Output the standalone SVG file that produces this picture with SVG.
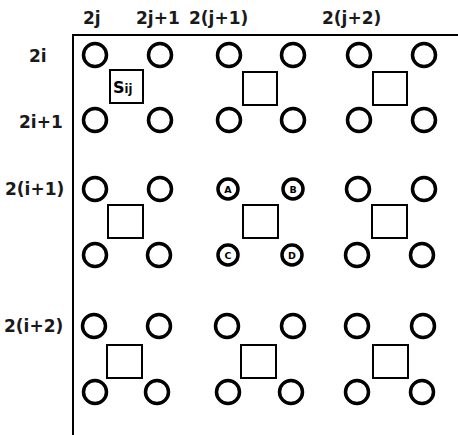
<svg xmlns="http://www.w3.org/2000/svg" width="458" height="435" viewBox="0 0 458 435">
<style>
.c{fill:none;stroke:#000;stroke-width:3.5}
.s{fill:none;stroke:#000;stroke-width:2}
.l{font-family:"DejaVu Sans",Verdana,sans-serif;font-weight:bold;font-size:17px;fill:#1a1a1a}
.sm{font-family:"DejaVu Sans",Verdana,sans-serif;font-weight:bold;font-size:9.5px;fill:#000;text-anchor:middle}
</style>
<rect width="458" height="435" fill="#fff"/>
<g id="connectors">
<path d="M73 435V35H458" fill="none" stroke="#000" stroke-width="2"/>
</g>
<g id="labels">
<text class="l" x="83" y="24">2j</text>
<text class="l" x="136" y="24">2j+1</text>
<text class="l" x="189" y="24">2(j+1)</text>
<text class="l" x="322" y="24">2(j+2)</text>
<text class="l" x="29" y="62">2i</text>
<text class="l" x="19" y="128">2i+1</text>
<text class="l" x="5" y="195">2(i+1)</text>
<text class="l" x="4" y="332">2(i+2)</text>
</g>
<g id="block-1-1">
<circle class="c" cx="95" cy="55" r="11.5"/><circle class="c" cx="160" cy="55" r="11.5"/>
<circle class="c" cx="95" cy="120" r="11.5"/><circle class="c" cx="160" cy="120" r="11.5"/>
<rect class="s" x="110" y="70" width="33" height="33"/>
<text x="113" y="93" style="font-family:'DejaVu Sans',Verdana,sans-serif;font-weight:bold;font-size:16px">S<tspan font-size="11.5">ij</tspan></text>
</g>
<g id="block-1-2">
<circle class="c" cx="229" cy="55" r="11.5"/><circle class="c" cx="293" cy="55" r="11.5"/>
<circle class="c" cx="229" cy="120" r="11.5"/><circle class="c" cx="293" cy="120" r="11.5"/>
<rect class="s" x="243" y="72" width="34" height="33"/>
</g>
<g id="block-1-3">
<circle class="c" cx="359" cy="55" r="11.5"/><circle class="c" cx="424" cy="55" r="11.5"/>
<circle class="c" cx="359" cy="120" r="11.5"/><circle class="c" cx="424" cy="120" r="11.5"/>
<rect class="s" x="373" y="72" width="34" height="33"/>
</g>
<g id="block-2-1">
<circle class="c" cx="95" cy="189" r="11.5"/><circle class="c" cx="160" cy="189" r="11.5"/>
<circle class="c" cx="95" cy="255" r="11.5"/><circle class="c" cx="159" cy="255" r="11.5"/>
<rect class="s" x="108" y="205" width="35" height="33"/>
</g>
<g id="block-2-2">
<circle class="c" cx="228" cy="189" r="10"/><text class="sm" x="228" y="192.5">A</text>
<circle class="c" cx="293" cy="189" r="10"/><text class="sm" x="293" y="192.5">B</text>
<circle class="c" cx="228" cy="255" r="10"/><text class="sm" x="228" y="258.5">C</text>
<circle class="c" cx="292" cy="255" r="10"/><text class="sm" x="292" y="258.5">D</text>
<rect class="s" x="243" y="205" width="35" height="33"/>
</g>
<g id="block-2-3">
<circle class="c" cx="358" cy="189" r="11.5"/><circle class="c" cx="424" cy="189" r="11.5"/>
<circle class="c" cx="357" cy="255" r="11.5"/><circle class="c" cx="422" cy="255" r="11.5"/>
<rect class="s" x="372" y="205" width="35" height="33"/>
</g>
<g id="block-3-1">
<circle class="c" cx="94" cy="326" r="11.5"/><circle class="c" cx="159" cy="326" r="11.5"/>
<circle class="c" cx="95" cy="392" r="11.5"/><circle class="c" cx="157" cy="392" r="11.5"/>
<rect class="s" x="107" y="345" width="35" height="33"/>
</g>
<g id="block-3-2">
<circle class="c" cx="227" cy="326" r="11.5"/><circle class="c" cx="293" cy="326" r="11.5"/>
<circle class="c" cx="228" cy="392" r="11.5"/><circle class="c" cx="291" cy="392" r="11.5"/>
<rect class="s" x="241" y="345" width="35" height="33"/>
</g>
<g id="block-3-3">
<circle class="c" cx="357" cy="326" r="11.5"/><circle class="c" cx="423" cy="326" r="11.5"/>
<circle class="c" cx="357" cy="392" r="11.5"/><circle class="c" cx="422" cy="392" r="11.5"/>
<rect class="s" x="373" y="345" width="35" height="33"/>
</g>
</svg>
